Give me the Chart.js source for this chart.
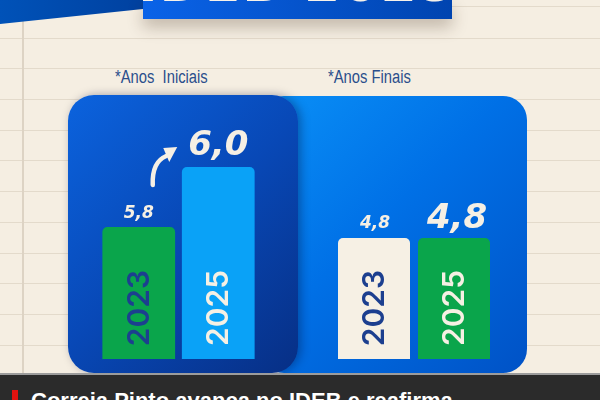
<!DOCTYPE html>
<html>
<head>
<meta charset="utf-8">
<script src="https://cdn.jsdelivr.net/npm/chart.js@4"></script>
<style>
  body { margin: 0; }
  #page {
    position: relative; width: 600px; height: 400px; overflow: hidden;
    background-color: #f5eee2;
    background-image: repeating-linear-gradient(to bottom, transparent 0, transparent 29.7px, #e3dacb 29.7px, #e3dacb 30.7px);
    background-position: 0 8px;
  }
  .abs { position: absolute; }
  #vline { left: 22px; top: 0; width: 2px; height: 400px; background: #ddd3c4; }
  #corner { left: 0; top: 0; width: 143px; height: 24px;
    background: linear-gradient(90deg, #0052b8, #0041a0);
    clip-path: polygon(0 0, 143px 0, 143px 9px, 0 24px); }
  #banner { left: 143px; top: 0; width: 309px; height: 19px;
    background: linear-gradient(90deg, #0a63e8, #0044b0);
    box-shadow: 0 8px 16px rgba(60,40,20,0.28); overflow: hidden; }
  #banner span { position: absolute; left: -20px; width: 349px; top: -43px; text-align: center;
    font: bold 52px 'DejaVu Sans'; line-height: 1; color: #f7f2ea; letter-spacing: 2px; white-space: nowrap; }
  .sub { top: 67px; font: 18px 'Liberation Sans'; color: #2b4f8c; white-space: pre;
    transform: scaleX(0.82); transform-origin: 0 0; }
  #panelR { left: 260px; top: 96px; width: 267px; height: 277px; border-radius: 24px;
    background: linear-gradient(135deg, #0a90f7 0%, #0070e6 45%, #0052c6 100%); }
  #panelL { left: 68px; top: 95px; width: 230px; height: 278px; border-radius: 26px;
    background: linear-gradient(135deg, #0b63de 0%, #0848b6 50%, #072f85 100%);
    box-shadow: 3px 0 10px rgba(0,10,50,0.35); }
  #footer { left: 0; top: 373px; width: 600px; height: 27px; background: #2b2b2b; border-top: 2px solid #9c9c9c; }
  #redmark { left: 12px; top: 390px; width: 6px; height: 10px; background: #e3120f; }
  #headline { left: 31px; top: 390px; font: bold 22px 'Liberation Sans'; color: #ffffff; line-height: 1; white-space: nowrap; }
  canvas { position: absolute; }
</style>
</head>
<body>
<div id="page">
  <div id="vline" class="abs"></div>
  <div id="corner" class="abs"></div>
  <div id="banner" class="abs"><span>IDEB 2025</span></div>
  <div class="abs sub" style="left:115px">*Anos  Iniciais</div>
  <div class="abs sub" style="left:328px">*Anos Finais</div>
  <div id="panelR" class="abs"></div>
  <div id="panelL" class="abs"></div>
  <canvas id="chartIniciais" width="159" height="249" style="left:99px; top:110px"></canvas>
  <canvas id="chartFinais" width="160" height="249" style="left:334px; top:110px"></canvas>
  <div id="footer" class="abs"></div>
  <div id="redmark" class="abs"></div>
  <div id="headline" class="abs">Correia Pinto avança no IDEB e reafirma</div>
</div>
<script>
// data
const years = ['2023', '2025'];
const anosIniciais = [5.8, 6.0];
const anosFinais = [4.8, 4.8];

const cream = '#f6f0e4';
const navy = '#1c3f8f';

// draws the value above each bar, the rotated year inside it, and the optional arrow
const labelsPlugin = {
    id: 'barLabels',
    afterDatasetsDraw(chart, args, opts) {
        const ctx = chart.ctx;
        const meta = chart.getDatasetMeta(0);
        const values = chart.data.datasets[0].data;
        meta.data.forEach((bar, i) => {
            ctx.save();
            ctx.fillStyle = cream;
            ctx.font = 'italic bold ' + opts.valueSizes[i] + 'px "DejaVu Sans"';
            ctx.textAlign = 'center';
            ctx.textBaseline = 'alphabetic';
            ctx.fillText(values[i].toFixed(1).replace('.', ','), bar.x + opts.valueShift[i], bar.y - opts.valueGap[i]);
            ctx.restore();

            ctx.save();
            ctx.translate(bar.x, 198);
            ctx.rotate(-Math.PI / 2);
            ctx.fillStyle = opts.yearColors[i];
            ctx.font = '600 30px Inter';
            ctx.textAlign = 'center';
            ctx.textBaseline = 'middle';
            ctx.fillText(chart.data.labels[i], 0, 1);
            ctx.restore();
        });

        if (opts.arrow) {
            const a = meta.data[0], b = meta.data[1];
            const x0 = a.x + 14, y0 = a.y - 42;
            const x1 = b.x - 50, y1 = b.y - 9;
            ctx.save();
            ctx.strokeStyle = cream;
            ctx.fillStyle = cream;
            ctx.lineWidth = 4.5;
            ctx.lineCap = 'round';
            ctx.beginPath();
            ctx.moveTo(x0, y0);
            ctx.quadraticCurveTo(x0 - 1, y1 + 4, x1 - 2, y1 - 2);
            ctx.stroke();
            ctx.beginPath();
            ctx.moveTo(x1 + 9, y1 - 11);
            ctx.lineTo(x1 - 5, y1 - 10);
            ctx.lineTo(x1 + 1, y1 + 4);
            ctx.closePath();
            ctx.fill();
            ctx.restore();
        }
    }
};

function makeChart(id, values, colors, yMin, yMax, labelOpts) {
    return new Chart(document.getElementById(id).getContext('2d'), {
        type: 'bar',
        data: {
            labels: years,
            datasets: [{
                data: values,
                backgroundColor: colors,
                borderRadius: 5,
                borderSkipped: false,
                categoryPercentage: 1,
                barPercentage: labelOpts.barPct
            }]
        },
        options: {
            responsive: false,
            animation: false,
            layout: { padding: 0 },
            plugins: {
                legend: { display: false },
                tooltip: { enabled: false },
                barLabels: labelOpts
            },
            scales: {
                x: { display: false },
                y: { display: false, min: yMin, max: yMax }
            }
        },
        plugins: [labelsPlugin]
    });
}

makeChart('chartIniciais', anosIniciais, ['#0aa54b', '#0aa2f7'], 5.36, 6.19, {
    barPct: 0.915,
    valueSizes: [17, 34],
    valueGap: [9, 12],
    valueShift: [0, 0],
    yearColors: [navy, cream],
    arrow: true
});

makeChart('chartFinais', anosFinais, ['#f6f0e4', '#0aa54b'], 4.397, 5.227, {
    barPct: 0.9,
    valueSizes: [17, 34],
    valueGap: [10, 10],
    valueShift: [1, 3],
    yearColors: [navy, cream],
    arrow: false
});
</script>
</body>
</html>
